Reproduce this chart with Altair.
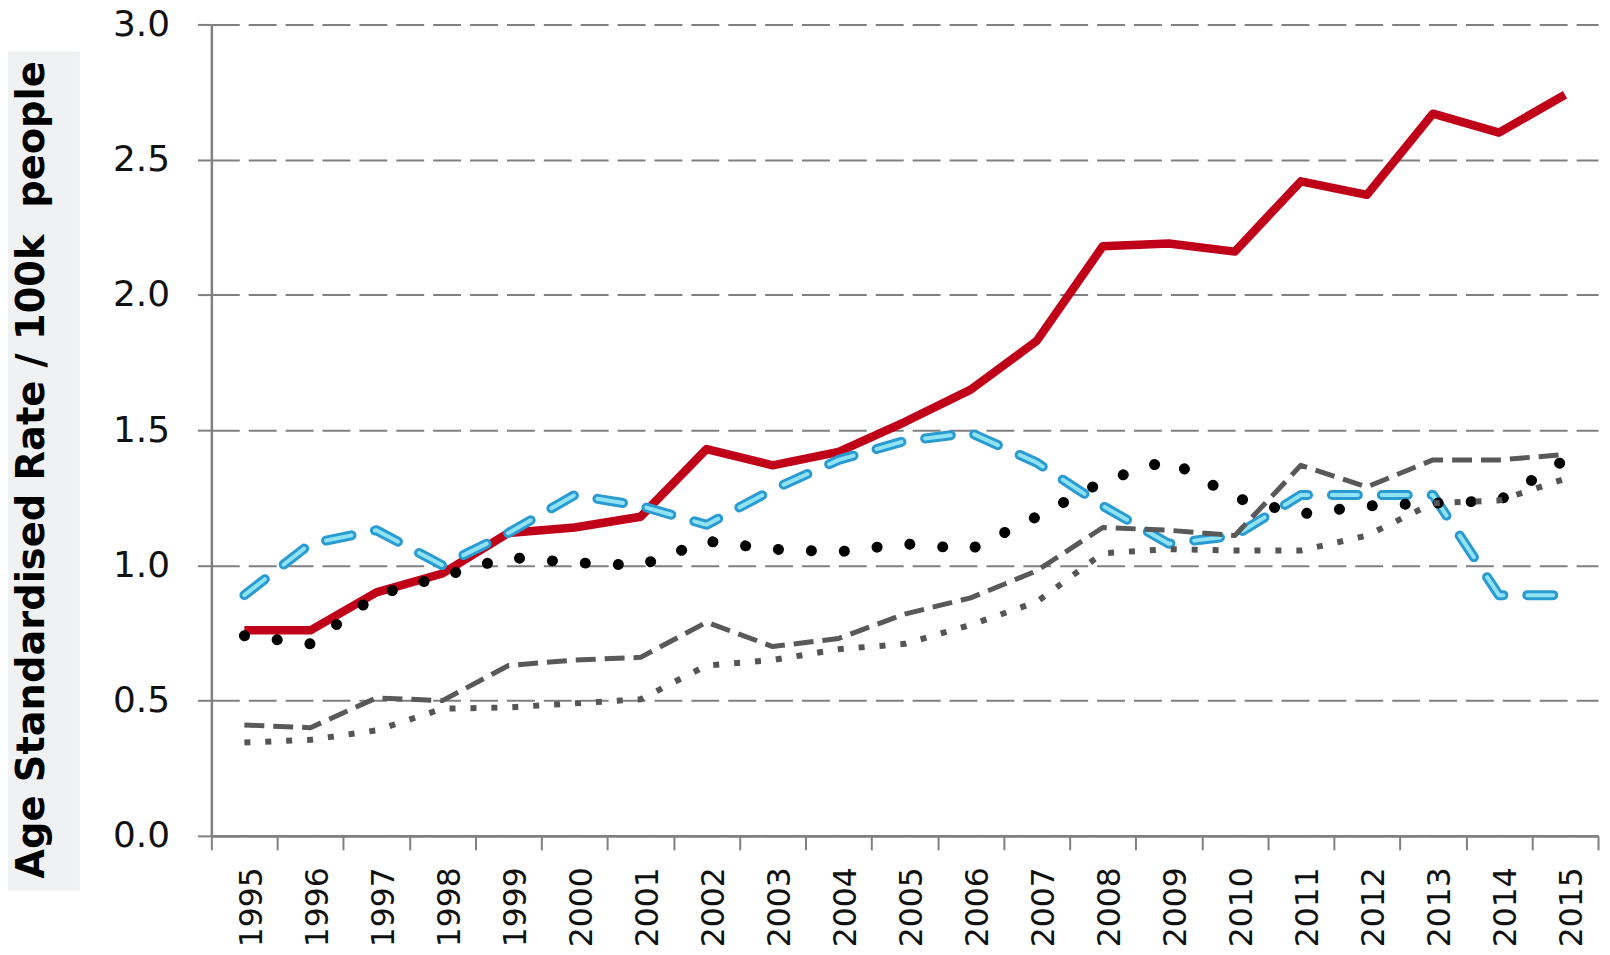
import altair as alt
import pandas as pd

years = ["1995", "1996", "1997", "1998", "1999", "2000", "2001", "2002", "2003", "2004",
         "2005", "2006", "2007", "2008", "2009", "2010", "2011", "2012", "2013", "2014", "2015"]

red_solid = [0.76, 0.76, 0.90, 0.97, 1.12, 1.14, 1.18, 1.43, 1.37, 1.42, 1.53, 1.65, 1.83,
             2.18, 2.19, 2.16, 2.42, 2.37, 2.67, 2.60, 2.74]
blue_dash = [0.89, 1.08, 1.13, 1.00, 1.12, 1.26, 1.22, 1.15, 1.28, 1.39, 1.46, 1.49, 1.38,
             1.22, 1.08, 1.11, 1.26, 1.26, 1.26, 0.89, 0.89]
black_dots = [0.74, 0.71, 0.89, 0.96, 1.03, 1.01, 1.00, 1.09, 1.06, 1.05, 1.08, 1.06, 1.18,
              1.31, 1.39, 1.25, 1.19, 1.22, 1.23, 1.24, 1.39]
grey_dash = [0.41, 0.40, 0.51, 0.50, 0.63, 0.65, 0.66, 0.79, 0.70, 0.73, 0.82, 0.88, 0.98,
             1.14, 1.13, 1.11, 1.37, 1.29, 1.39, 1.39, 1.41]
grey_dot = [0.345, 0.355, 0.39, 0.47, 0.475, 0.49, 0.505, 0.63, 0.65, 0.69, 0.71, 0.78, 0.865,
            1.045, 1.06, 1.055, 1.055, 1.11, 1.23, 1.24, 1.32]

y_ticks = [0.0, 0.5, 1.0, 1.5, 2.0, 2.5, 3.0]
y_title = "Age Standardised Rate / 100k\u00a0 people"

series = {
    "red": red_solid,
    "blue": blue_dash,
    "black": black_dots,
    "greydash": grey_dash,
    "greydot": grey_dot,
}
rows = []
for name, vals in series.items():
    for yr, v in zip(years, vals):
        rows.append({"series": name, "year": yr, "value": v})
df = pd.DataFrame(rows)

FONT = "DejaVu Sans"
GREY = "#808080"

X = alt.X(
    "year:O",
    sort=years,
    bandPosition=0.5,
    scale=alt.Scale(type="band", paddingInner=0, paddingOuter=0),
    axis=alt.Axis(
        title=None, labelAngle=270, labelAlign="right", labelBaseline="middle",
        labelFont=FONT, labelFontSize=31.5, labelColor="#111111", labelPadding=17,
        labelOffset=8, labelOverlap=False, tickBand="extent", tickSize=14,
        tickWidth=2, tickColor=GREY, domainColor=GREY, domainWidth=3, grid=False,
    ),
)
Y = alt.Y(
    "value:Q",
    scale=alt.Scale(domain=[0, 3], nice=False, zero=True),
    axis=alt.Axis(
        title=None, values=y_ticks, format=".1f", labelFont=FONT, labelFontSize=36,
        labelColor="#111111", labelPadding=28, labelOverlap=False, tickSize=14,
        tickWidth=2, tickColor=GREY, domainColor=GREY, domainWidth=2.5,
        grid=True, gridDash=[28, 9], gridColor=GREY, gridWidth=2,
    ),
)

one = pd.DataFrame({"k": [0]})
bg = alt.Chart(one).mark_rect(color="#f0f1f3").encode(
    x=alt.value(-204), x2=alt.value(-132), y=alt.value(27), y2=alt.value(869)
)
title = alt.Chart(one).mark_text(
    text=y_title, angle=270, align="center", baseline="alphabetic",
    font=FONT, fontSize=38.5, fontWeight="bold", color="#000000",
).encode(x=alt.value(-168), y=alt.value(447))


def line(name, **kw):
    return (
        alt.Chart(df)
        .transform_filter(alt.datum.series == name)
        .mark_line(strokeJoin="round", **kw)
        .encode(x=X, y=Y)
    )


red = line("red", color="#c00018", strokeWidth=8.5)
blue_outer = line("blue", color="#2a9bd0", strokeWidth=10, strokeDash=[26, 24], strokeCap="round")
blue_inner = line("blue", color="#8fe3f5", strokeWidth=4, strokeDash=[26, 24], strokeCap="round")
black = line("black", color="#000000", strokeWidth=11, strokeDash=[0.1, 33], strokeCap="round")
gdash = line("greydash", color="#595959", strokeWidth=5, strokeDash=[20, 9])
gdot = line("greydot", color="#555555", strokeWidth=6, strokeDash=[6, 15])

chart = (
    alt.layer(bg, title, red, blue_outer, blue_inner, black, gdash, gdot)
    .properties(
        width=1391, height=814,
        autosize=alt.AutoSizeParams(type="none"),
        padding={"left": 204, "top": 15, "right": 4, "bottom": 110},
        background="white",
    )
    .configure_view(strokeWidth=0)
)

chart.save("out.html", embed_options={"renderer": "svg", "actions": False})
